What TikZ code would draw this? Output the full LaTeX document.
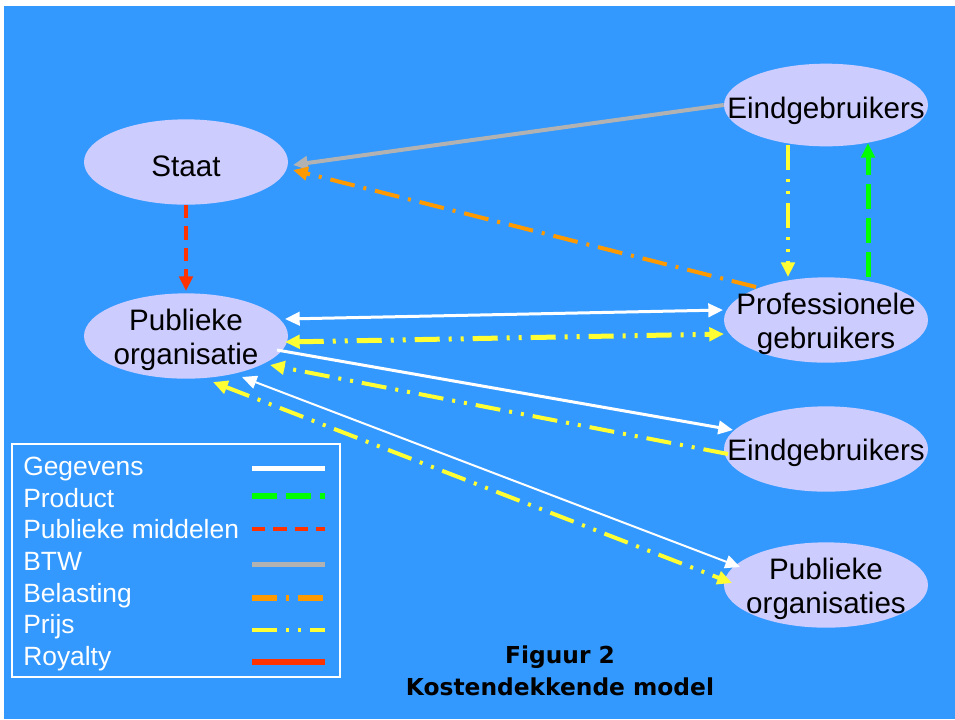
\documentclass[tikz,border=0pt]{standalone}
\usepackage{fontspec}
\setmainfont{Liberation Sans}
\newfontfamily\titlefont{DejaVu Sans}
\usetikzlibrary{arrows.meta,shapes.geometric,calc}
\definecolor{bg}{HTML}{3399FF}
\definecolor{nodefill}{HTML}{CCCCFF}
\definecolor{prijscol}{HTML}{FFFF33}
\definecolor{productcol}{HTML}{00FF00}
\definecolor{middelencol}{HTML}{FF3300}
\definecolor{btwcol}{HTML}{B2B2B2}
\definecolor{belastingcol}{HTML}{FF9900}
\definecolor{royaltycol}{HTML}{FF3300}
\tikzset{
  ell/.style={ellipse, fill=nodefill, minimum width=153pt, minimum height=64pt, inner sep=0pt},
  lbl/.style={font=\fontsize{22.2}{25.5}\selectfont, align=center, text=black, yshift=-3pt},
  tipend/.style={-{Triangle[length=11pt,width=10pt]}},
  tipboth/.style={{Triangle[length=11pt,width=10pt]}-{Triangle[length=11pt,width=10pt]}},
  gegevens/.style={draw=white, line width=2.25pt},
  gegevensthin/.style={draw=white, line width=1.5pt},
  product/.style={draw=productcol, line width=3.75pt, dash pattern=on 18.75pt off 6.75pt},
  middelen/.style={draw=middelencol, line width=3.5pt, dash pattern=on 10pt off 6pt},
  btw/.style={draw=btwcol, line width=3pt},
  belasting/.style={draw=belastingcol, line width=3pt, dash pattern=on 18.75pt off 6.75pt on 2.25pt off 6.75pt},
  prijs/.style={draw=prijscol, line width=3pt, dash pattern=on 18.75pt off 6.75pt on 2.25pt off 6.75pt on 2.25pt off 6.75pt},
  royalty/.style={draw=royaltycol, line width=4.2pt},
  legtext/.style={anchor=base west, text=white, font=\fontsize{19.8}{22}\selectfont, inner sep=0pt},
  titletext/.style={anchor=base, text=black, font=\titlefont\bfseries\fontsize{17.5}{21}\selectfont, inner sep=0pt}
}
\begin{document}
\begin{tikzpicture}[x=0.75pt, y=-0.75pt]
\useasboundingbox (0,0) rectangle (955,719);
\fill[white] (0,0) rectangle (955,719);
\fill[bg] (4,6) rectangle (955,719);

% nodes
\node[ell, label={[lbl]center:Staat}] (staat) at (186,162) {};
\node[ell, label={[lbl]center:{Publieke\\organisatie}}] (po) at (186,336) {};
\node[ell, minimum height=62pt, label={[lbl,yshift=-1.5pt]center:Eindgebruikers}] (eu) at (826,105) {};
\node[ell, label={[lbl]center:{Professionele\\gebruikers}}] (pg) at (826,320) {};
\node[ell, label={[lbl]center:Eindgebruikers}] (em) at (826,449) {};
\node[ell, label={[lbl]center:{Publieke\\organisaties}}] (ps) at (826,585) {};

% connectors
\draw[btw,tipend] (eu.west) -- ($(staat.center)+(107,3)$);
\draw[belasting,tipend] ($(pg.center)+(-70,-33)$) -- ($(staat.center)+(107,8)$);
\draw[middelen,tipend] (staat.south) -- ($(po.center)+(0,-45)$);
\draw[prijs,tipend] ($(eu.center)+(-38,40)$) -- ($(pg.center)+(-38,-43)$);
\draw[product,tipend] ($(pg.center)+(42,-43)$) -- ($(eu.center)+(42,38)$);
\draw[gegevens,tipboth] ($(po.center)+(99,-17)$) -- ($(pg.center)+(-103,-10)$);
\draw[prijs,line width=3.75pt,tipboth] ($(po.center)+(99,6)$) -- ($(pg.center)+(-102,14)$);
\draw[gegevens,tipend] ($(po.center)+(91,14)$) -- ($(em.center)+(-93,-19)$);
\draw[prijs,tipend] ($(em.center)+(-98,5)$) -- ($(po.center)+(84,29)$);
\draw[gegevensthin,tipboth] ($(po.center)+(56,41)$) -- ($(ps.center)+(-86,-18)$);
\draw[prijs,tipboth] ($(po.center)+(27,46)$) -- ($(ps.center)+(-94,-2)$);

% legend
\draw[white, line width=1.5pt] (12,444) rectangle (340,677);
\node[legtext] (l1) at (23,475) {Gegevens};
\node[legtext] (l2) at (23,507) {Product};
\node[legtext] (l3) at (23,538) {Publieke middelen};
\node[legtext] (l4) at (23,570) {BTW};
\node[legtext] (l5) at (23,602) {Belasting};
\node[legtext] (l6) at (23,633) {Prijs};
\node[legtext] (l7) at (23,665) {Royalty};
\draw[gegevens, line width=3.75pt] (252,468) -- (325,468);
\draw[product, line width=4.5pt] (252,496) -- (325,496);
\draw[middelen, line width=3pt] (252,529) -- (325,529);
\draw[btw, line width=3.75pt] (252,564) -- (325,564);
\draw[belasting, line width=4pt] (252,598) -- (325,598);
\draw[prijs, line width=3.5pt] (252,630) -- (325,630);
\draw[royalty] (252,662) -- (325,662);

% title
\node[titletext] (t1) at (560,663) {Figuur 2};
\node[titletext] (t2) at (560,695) {Kostendekkende model};
\end{tikzpicture}
\end{document}
